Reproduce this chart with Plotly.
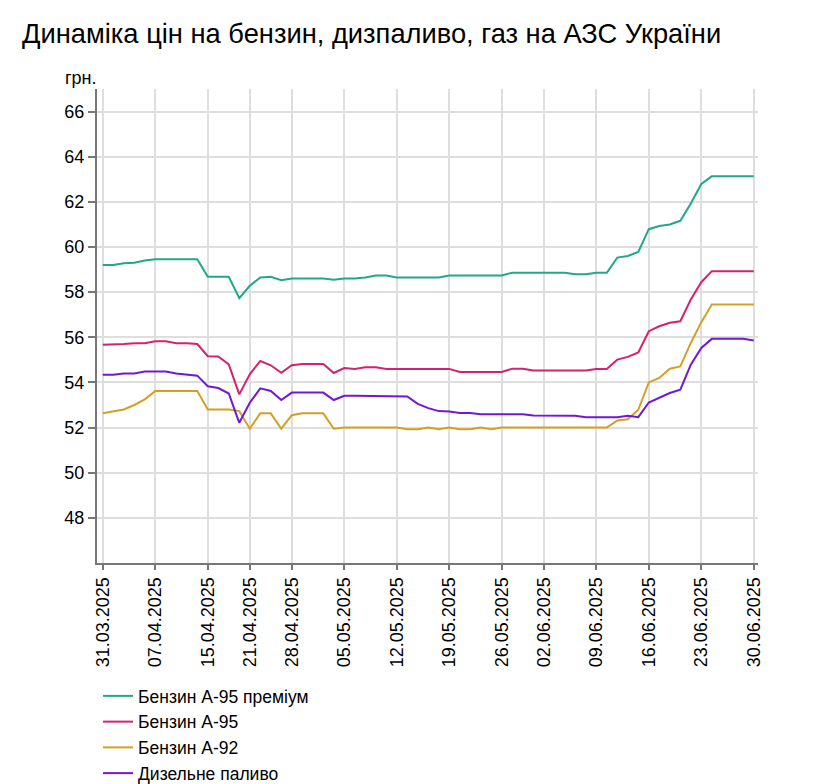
import plotly.graph_objects as go

# робочі дні, що є в ряді (деякі дні пропущені)
dates = [
    "31.03.2025", "01.04.2025", "02.04.2025", "03.04.2025", "04.04.2025",
    "07.04.2025", "08.04.2025", "09.04.2025", "10.04.2025", "11.04.2025",
    "15.04.2025", "16.04.2025", "17.04.2025", "18.04.2025",
    "21.04.2025", "22.04.2025", "23.04.2025", "24.04.2025",
    "28.04.2025", "29.04.2025", "30.04.2025", "01.05.2025", "02.05.2025",
    "05.05.2025", "06.05.2025", "07.05.2025", "08.05.2025", "09.05.2025",
    "12.05.2025", "13.05.2025", "14.05.2025", "15.05.2025", "16.05.2025",
    "19.05.2025", "20.05.2025", "21.05.2025", "22.05.2025", "23.05.2025",
    "26.05.2025", "27.05.2025", "28.05.2025", "29.05.2025",
    "02.06.2025", "03.06.2025", "04.06.2025", "05.06.2025", "06.06.2025",
    "09.06.2025", "10.06.2025", "11.06.2025", "12.06.2025", "13.06.2025",
    "16.06.2025", "17.06.2025", "18.06.2025", "19.06.2025", "20.06.2025",
    "23.06.2025", "24.06.2025", "25.06.2025", "26.06.2025", "27.06.2025",
    "30.06.2025",
]

tick_dates = [
    "31.03.2025", "07.04.2025", "15.04.2025", "21.04.2025", "28.04.2025",
    "05.05.2025", "12.05.2025", "19.05.2025", "26.05.2025", "02.06.2025",
    "09.06.2025", "16.06.2025", "23.06.2025", "30.06.2025",
]

a95_premium = [
    59.20, 59.20, 59.28, 59.30, 59.40,
    59.46, 59.46, 59.46, 59.46, 59.46,
    58.68, 58.68, 58.68, 57.73,
    58.28, 58.65, 58.68, 58.53,
    58.60, 58.60, 58.60, 58.60, 58.55,
    58.60, 58.60, 58.65, 58.74, 58.74,
    58.65, 58.65, 58.65, 58.65, 58.65,
    58.74, 58.74, 58.74, 58.74, 58.74,
    58.74, 58.86, 58.86, 58.86,
    58.86, 58.86, 58.86, 58.79, 58.79,
    58.86, 58.86, 59.53, 59.60, 59.78,
    60.79, 60.93, 61.00, 61.16, 61.93,
    62.79, 63.13, 63.13, 63.13, 63.13,
    63.13,
]

a95 = [
    55.67, 55.67, 55.70, 55.74, 55.74,
    55.82, 55.82, 55.74, 55.74, 55.70,
    55.16, 55.15, 54.80, 53.47,
    54.36, 54.95, 54.76, 54.43,
    54.76, 54.82, 54.82, 54.82, 54.42,
    54.64, 54.60, 54.67, 54.67, 54.60,
    54.60, 54.60, 54.60, 54.60, 54.60,
    54.60, 54.46, 54.46, 54.46, 54.46,
    54.46, 54.61, 54.61, 54.53,
    54.53, 54.53, 54.53, 54.53, 54.53,
    54.60, 54.60, 55.01, 55.13, 55.33,
    56.27, 56.49, 56.64, 56.71, 57.67,
    58.44, 58.93, 58.93, 58.93, 58.93,
    58.93,
]

a92 = [
    52.63, 52.70, 52.80, 53.00, 53.25,
    53.62, 53.62, 53.62, 53.62, 53.62,
    52.80, 52.80, 52.80, 52.73,
    51.95, 52.63, 52.63, 51.95,
    52.55, 52.63, 52.63, 52.63, 51.95,
    52.00, 52.00, 52.00, 52.00, 52.00,
    52.00, 51.93, 51.93, 52.00, 51.93,
    52.00, 51.93, 51.93, 52.00, 51.93,
    52.00, 52.00, 52.00, 52.00,
    52.00, 52.00, 52.00, 52.00, 52.00,
    52.00, 52.00, 52.31, 52.37, 52.79,
    54.00, 54.20, 54.61, 54.71, 55.75,
    56.67, 57.45, 57.45, 57.45, 57.45,
    57.45,
]

diesel = [
    54.34, 54.34, 54.40, 54.40, 54.48,
    54.48, 54.48, 54.40, 54.34, 54.30,
    53.83, 53.75, 53.51, 52.21,
    53.10, 53.74, 53.62, 53.22,
    53.55, 53.55, 53.55, 53.55, 53.22,
    53.41, 53.41, 53.41, 53.41, 53.41,
    53.41, 53.38, 53.05, 52.86, 52.73,
    52.71, 52.65, 52.65, 52.59, 52.59,
    52.59, 52.59, 52.59, 52.53,
    52.52, 52.52, 52.52, 52.52, 52.46,
    52.46, 52.46, 52.46, 52.52, 52.46,
    53.11, 53.33, 53.53, 53.68, 54.79,
    55.53, 55.93, 55.93, 55.93, 55.93,
    55.86,
]

series = [
    ("Бензин А-95 преміум", a95_premium, "#21a88a"),
    ("Бензин А-95", a95, "#d1236f"),
    ("Бензин А-92", a92, "#d3a025"),
    ("Дизельне паливо", diesel, "#7218d4"),
]

FONT = "Liberation Sans, Arial, sans-serif"
W, H = 817, 776  # сторінка має відступ 8px

fig = go.Figure()
for name, values, color in series:
    fig.add_trace(go.Scatter(
        x=dates, y=values, name=name, mode="lines",
        line=dict(color=color, width=2),
    ))

fig.update_layout(
    width=W, height=H,
    margin=dict(l=89, r=67, t=81, b=221, autoexpand=False),
    paper_bgcolor="white", plot_bgcolor="white",
    font=dict(family=FONT, size=18, color="black"),
    title=dict(
        text="Динаміка цін на бензин, дизпаливо, газ на АЗС України",
        x=14 / W, xref="container", xanchor="left",
        y=1 - 25 / H, yref="container", yanchor="middle",
        font=dict(size=27.3, color="black"),
    ),
    showlegend=True,
    legend=dict(
        orientation="v",
        x=90 / W, xref="container", xanchor="left",
        y=1 - 670 / H, yref="container", yanchor="top",
        font=dict(size=17.5), bgcolor="rgba(0,0,0,0)",
    ),
    annotations=[dict(
        text="грн.", xref="paper", yref="paper",
        x=(63 - 97) / 661, y=(563 - 78) / 474,
        xanchor="left", yanchor="middle", showarrow=False,
        font=dict(size=18),
    )],
)

fig.update_xaxes(
    type="category", categoryorder="array", categoryarray=dates,
    range=[-0.55, 62.4], automargin=False,
    tickmode="array", tickvals=tick_dates, ticktext=tick_dates,
    tickangle=-90, ticks="outside", ticklen=5, tickwidth=2, tickcolor="#777",
    showgrid=True, gridcolor="#dedede", gridwidth=1.5,
    showline=True, linecolor="#777", linewidth=2,
    zeroline=False, tickfont=dict(size=18),
)
fig.update_yaxes(
    range=[46, 67], automargin=False,
    tickmode="array", tickvals=list(range(48, 67, 2)),
    ticks="outside", ticklen=7, tickwidth=2, tickcolor="#777",
    showgrid=True, gridcolor="#dedede", gridwidth=1.5,
    showline=True, linecolor="#777", linewidth=2,
    zeroline=False, tickfont=dict(size=18),
)

fig.write_html("out.html")
